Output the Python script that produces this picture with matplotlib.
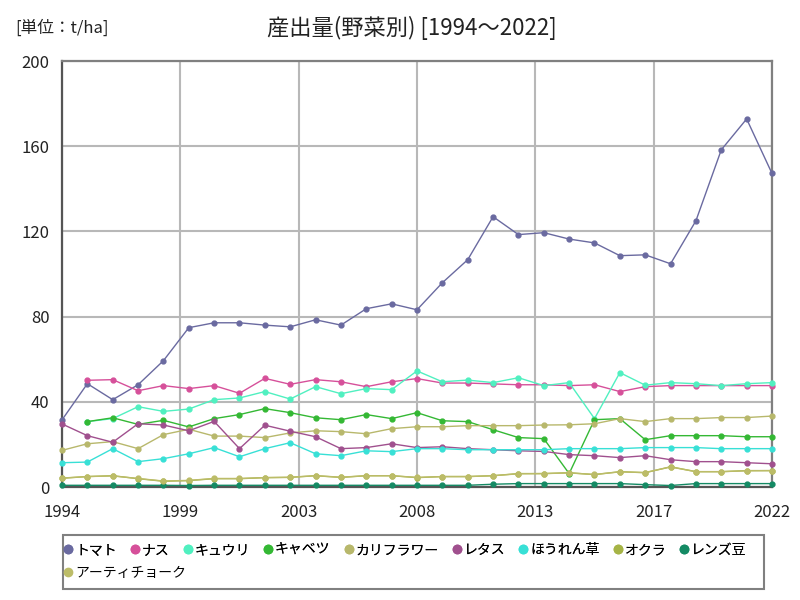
import numpy as np
import matplotlib
matplotlib.use("Agg")
import matplotlib.pyplot as plt
from matplotlib.lines import Line2D
from matplotlib.patches import Rectangle

plt.rcParams['font.family'] = ['Noto Sans CJK JP', 'DejaVu Sans']

nan = np.nan
years = list(range(1994, 2023))
title = "産出量(野菜別) [1994～2022]"
unit_label = "[単位：t/ha]"

names = ["トマト", "ナス", "キュウリ", "キャベツ", "カリフラワー", "レタス",
         "ほうれん草", "オクラ", "レンズ豆", "アーティチョーク"]

tomato = [31.5, 48.5, 41, 48, 59.3, 74.8, 77.1, 77.1, 76, 75.2, 78.5, 76, 83.7, 86, 83.2,
          95.9, 106.7, 126.9, 118.5, 119.4, 116.4, 114.6, 108.6, 109, 104.8, 125, 158.3, 172.8, 147.2]
nasu = [nan, 50.1, 50.4, 45.2, 47.6, 46.2, 47.6, 44, 51, 48.2, 50.4, 49.4, 47.1, 49.4, 50.9,
        48.8, 48.8, 48.4, 48, 48, 47.6, 48, 44.8, 47.1, 47.6, 47.6, 47.6, 47.6, 47.6]
cucumber = [nan, 30.7, 32.1, 37.7, 35.5, 36.6, 41, 41.8, 44.8, 41.3, 47.1, 43.8, 46.2, 45.7, 54.5,
            49.4, 50.2, 49, 51.3, 47.6, 49, 32.1, 53.7, 47.8, 49, 48.5, 47.6, 48.5, 49]
cabbage = [nan, 30.7, 32.5, 29.4, 31.3, 28.2, 32.1, 34, 36.8, 34.9, 32.5, 31.6, 34, 32.1, 34.9,
           31.1, 30.7, 26.9, 23.2, 22.7, 6.3, 31.6, 32.1, 22.2, 24.1, 24.1, 24.1, 23.6, 23.6]
cauliflower = [17.2, 20.3, 21.3, 18, 24.6, 27.1, 23.9, 23.9, 23.2, 25.4, 26.4, 26, 25, 27.4, 28.3,
               28.3, 28.8, 28.8, 28.8, 29.1, 29.2, 29.7, 32.1, 30.7, 32.1, 32.1, 32.6, 32.6, 33.3]
lettuce = [29.6, 24.1, 21, 29.7, 29.1, 26.4, 30.8, 18, 29, 26.2, 23.6, 18, 18.5, 20.3, 18.5,
           18.9, 18, 17.5, 17, 16.7, 15.2, 14.7, 13.8, 14.7, 12.8, 11.9, 11.9, 11.4, 10.9]
spinach = [11.4, 11.7, 18, 11.9, 13.3, 15.6, 18.5, 14.2, 18, 20.8, 15.6, 14.7, 17, 16.6, 18,
           18, 17.5, 17.5, 17.5, 17.5, 18, 18, 18, 18.5, 18.5, 18.5, 18, 18, 18]
okra = [4.1, 4.9, 5.3, 3.9, 2.7, 3, 3.9, 3.9, 4.4, 4.5, 5.3, 4.5, 5.3, 5.3, 4.4,
        4.9, 4.9, 5.3, 6.3, 6.3, 6.7, 5.8, 7.2, 6.7, 9.5, 7.2, 7.2, 7.7, 7.7]
lentil = [0.8, 0.8, 0.8, 0.8, 0.8, 0.7, 0.8, 0.8, 0.8, 0.8, 0.8, 0.8, 0.8, 0.8, 0.8,
          0.8, 0.8, 1.3, 1.6, 1.6, 1.6, 1.6, 1.6, 1.1, 0.7, 1.6, 1.6, 1.6, 1.6]
artichoke = [4.2, 4.9, 5.2, 4.0, 2.8, 3.1, 4.0, 4.0, 4.4, 4.6, 5.3, 4.6, 5.3, 5.3, 4.5,
             4.9, 4.9, 5.3, 6.2, 6.3, 6.6, 5.9, 7.1, 6.8, 9.4, 7.2, 7.2, 7.6, 7.7]

series = [tomato, nasu, cucumber, cabbage, cauliflower, lettuce, spinach, okra, lentil, artichoke]
colors = ["#6a6aa0", "#d6509a", "#50f0c0", "#34b834", "#b8b86c",
          "#a0508e", "#38e0d6", "#a6b446", "#148a64", "#bcbc68"]

fig = plt.figure(figsize=(8, 6), dpi=100)
ax = fig.add_axes([62/800, 1-487/600, (772-62)/800, (487-61)/600])

for name, vals, c in zip(names, series, colors):
    ax.plot(years, vals, color=c, lw=1.0, marker='o', ms=3.5, mec=c, mfc=c, label=name,
            clip_on=False, zorder=3)

ax.set_xlim(1994, 2022)
ax.set_ylim(0, 200)
ax.set_yticks(np.arange(0, 201, 40))
xt = np.linspace(1994, 2022, 7)
ax.set_xticks(xt)
ax.set_xticklabels([str(int(round(v))) for v in xt])
ax.grid(True, color="#b8b8b8", lw=1.5, zorder=0)
ax.tick_params(length=0, labelsize=12, colors="#222222")
ax.tick_params(axis='x', pad=12)
ax.tick_params(axis='y', pad=9)
for s in ['left', 'bottom']:
    ax.spines[s].set_color('#555555')
    ax.spines[s].set_linewidth(1.6)
for s in ['top', 'right']:
    ax.spines[s].set_color('#808080')
    ax.spines[s].set_linewidth(1.6)

fig.text(412/800, 1-28/600, title, ha='center', va='center', fontsize=16, color="#222222")
fig.text(15/800, 1-28/600, unit_label, ha='left', va='center', fontsize=12, color="#222222")

handles = [Line2D([], [], ls='none', marker='o', ms=6, color=c) for c in colors]
leg1 = fig.legend(handles[:9], names[:9], loc='center left', bbox_to_anchor=(64/800, 1-550/600),
                  ncol=9, frameon=False, fontsize=10, handlelength=0.6, handletextpad=0.2,
                  columnspacing=1.0, borderpad=0, borderaxespad=0)
leg2 = fig.legend(handles[9:], names[9:], loc='center left', bbox_to_anchor=(64/800, 1-573/600),
                  ncol=1, frameon=False, fontsize=10, handlelength=0.6, handletextpad=0.2,
                  borderpad=0, borderaxespad=0)
fig.add_artist(leg1)
fig.patches.append(Rectangle((63/800, 1-589/600), (764-63)/800, (589-535)/600,
                             transform=fig.transFigure, fill=False, ec='#808080', lw=1.5))

fig.savefig("out.png", dpi=100)
